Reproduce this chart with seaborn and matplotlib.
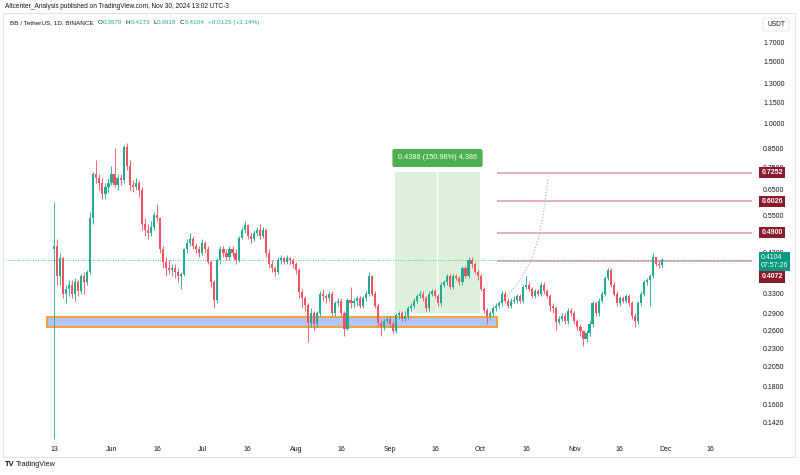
import numpy as np
import pandas as pd
import matplotlib
matplotlib.use("Agg")
import matplotlib.pyplot as plt
import matplotlib.transforms as mtransforms
from matplotlib.patches import Rectangle, FancyBboxPatch
import seaborn as sns

# ---------------- data (daily candles, day 0 = 13 May 2024) ----------------
first_open = 0.44
close = [
    0.45, 0.37, 0.415, 0.33, 0.34, 0.35, 0.33, 0.355, 0.335, 0.37,
    0.355, 0.38, 0.54, 0.72, 0.70, 0.68, 0.63, 0.66, 0.68, 0.72,
    0.67, 0.70, 0.69, 0.86, 0.76, 0.67, 0.66, 0.68, 0.65, 0.52,
    0.50, 0.49, 0.51, 0.55, 0.54, 0.44, 0.405, 0.39, 0.385, 0.39,
    0.38, 0.37, 0.375, 0.44, 0.46, 0.47, 0.45, 0.44, 0.43, 0.46,
    0.44, 0.405, 0.355, 0.316, 0.41, 0.44, 0.43, 0.42, 0.44, 0.43,
    0.41, 0.475, 0.50, 0.515, 0.48, 0.47, 0.49, 0.50, 0.48, 0.50,
    0.43, 0.40, 0.39, 0.38, 0.41, 0.415, 0.405, 0.415, 0.41, 0.40,
    0.385, 0.334, 0.32, 0.306, 0.272, 0.29, 0.27, 0.29, 0.33, 0.325,
    0.32, 0.33, 0.29, 0.31, 0.315, 0.29, 0.262, 0.316, 0.31, 0.315,
    0.32, 0.305, 0.32, 0.33, 0.37, 0.33, 0.305, 0.272, 0.265, 0.275,
    0.28, 0.27, 0.258, 0.286, 0.29, 0.28, 0.285, 0.30, 0.305, 0.315,
    0.325, 0.33, 0.32, 0.30, 0.33, 0.335, 0.325, 0.31, 0.35, 0.355,
    0.37, 0.345, 0.37, 0.365, 0.355, 0.39, 0.37, 0.41, 0.40, 0.38,
    0.37, 0.34, 0.296, 0.285, 0.29, 0.30, 0.305, 0.31, 0.33, 0.315,
    0.305, 0.315, 0.316, 0.325, 0.315, 0.345, 0.35, 0.34, 0.325, 0.335,
    0.33, 0.35, 0.335, 0.325, 0.305, 0.30, 0.274, 0.28, 0.285, 0.275,
    0.295, 0.29, 0.275, 0.265, 0.258, 0.245, 0.255, 0.27, 0.31, 0.29,
    0.315, 0.33, 0.365, 0.385, 0.35, 0.33, 0.31, 0.32, 0.315, 0.325,
    0.31, 0.285, 0.275, 0.31, 0.33, 0.355, 0.36, 0.37, 0.42, 0.40,
    0.3979, 0.4104,
]
high = [
    0.60, 0.47, 0.43, 0.42, 0.35, 0.36, 0.36, 0.365, 0.36, 0.375,
    0.38, 0.385, 0.56, 0.73, 0.79, 0.72, 0.70, 0.68, 0.70, 0.76,
    0.85, 0.72, 0.72, 0.87, 0.88, 0.79, 0.69, 0.70, 0.69, 0.66,
    0.54, 0.52, 0.53, 0.56, 0.59, 0.545, 0.45, 0.42, 0.41, 0.40,
    0.40, 0.39, 0.38, 0.445, 0.47, 0.49, 0.48, 0.46, 0.45, 0.47,
    0.465, 0.45, 0.41, 0.36, 0.415, 0.45, 0.45, 0.44, 0.45, 0.45,
    0.44, 0.48, 0.51, 0.53, 0.52, 0.49, 0.50, 0.51, 0.52, 0.51,
    0.505, 0.44, 0.41, 0.395, 0.42, 0.425, 0.42, 0.425, 0.42, 0.415,
    0.405, 0.39, 0.34, 0.325, 0.31, 0.30, 0.295, 0.295, 0.335, 0.34,
    0.33, 0.335, 0.335, 0.315, 0.32, 0.32, 0.295, 0.32, 0.345, 0.32,
    0.325, 0.325, 0.325, 0.335, 0.38, 0.372, 0.335, 0.31, 0.28, 0.28,
    0.285, 0.285, 0.275, 0.29, 0.295, 0.295, 0.295, 0.305, 0.31, 0.32,
    0.33, 0.335, 0.335, 0.325, 0.335, 0.34, 0.34, 0.33, 0.355, 0.36,
    0.375, 0.375, 0.375, 0.375, 0.37, 0.395, 0.395, 0.42, 0.418, 0.405,
    0.385, 0.375, 0.345, 0.30, 0.295, 0.305, 0.31, 0.315, 0.335, 0.335,
    0.32, 0.32, 0.325, 0.33, 0.33, 0.35, 0.37, 0.355, 0.345, 0.34,
    0.34, 0.355, 0.355, 0.34, 0.33, 0.31, 0.305, 0.285, 0.29, 0.29,
    0.30, 0.30, 0.295, 0.28, 0.27, 0.26, 0.26, 0.275, 0.315, 0.315,
    0.32, 0.335, 0.37, 0.39, 0.39, 0.355, 0.335, 0.325, 0.325, 0.33,
    0.33, 0.315, 0.29, 0.315, 0.335, 0.36, 0.365, 0.375, 0.43, 0.42,
    0.41, 0.4173,
]
low = [
    0.128, 0.35, 0.35, 0.32, 0.31, 0.325, 0.32, 0.315, 0.325, 0.33,
    0.33, 0.35, 0.375, 0.52, 0.68, 0.65, 0.61, 0.61, 0.64, 0.67,
    0.66, 0.65, 0.67, 0.68, 0.74, 0.65, 0.64, 0.65, 0.62, 0.50,
    0.48, 0.47, 0.48, 0.50, 0.53, 0.43, 0.39, 0.37, 0.375, 0.37,
    0.365, 0.355, 0.34, 0.37, 0.43, 0.45, 0.44, 0.43, 0.42, 0.425,
    0.43, 0.40, 0.345, 0.30, 0.31, 0.40, 0.42, 0.41, 0.41, 0.42,
    0.40, 0.405, 0.47, 0.49, 0.47, 0.46, 0.465, 0.48, 0.47, 0.475,
    0.42, 0.39, 0.38, 0.37, 0.375, 0.40, 0.40, 0.40, 0.40, 0.39,
    0.375, 0.32, 0.30, 0.295, 0.24, 0.265, 0.26, 0.265, 0.285, 0.315,
    0.31, 0.315, 0.285, 0.285, 0.305, 0.285, 0.25, 0.26, 0.30, 0.30,
    0.305, 0.30, 0.30, 0.315, 0.325, 0.325, 0.30, 0.265, 0.25, 0.26,
    0.27, 0.265, 0.255, 0.255, 0.28, 0.275, 0.275, 0.28, 0.295, 0.30,
    0.31, 0.32, 0.315, 0.295, 0.295, 0.325, 0.32, 0.305, 0.305, 0.345,
    0.35, 0.34, 0.34, 0.36, 0.35, 0.35, 0.365, 0.365, 0.39, 0.375,
    0.36, 0.335, 0.29, 0.27, 0.28, 0.285, 0.295, 0.30, 0.305, 0.31,
    0.30, 0.30, 0.31, 0.31, 0.31, 0.31, 0.34, 0.335, 0.32, 0.32,
    0.325, 0.325, 0.33, 0.32, 0.295, 0.29, 0.26, 0.27, 0.275, 0.27,
    0.27, 0.285, 0.27, 0.26, 0.25, 0.235, 0.24, 0.25, 0.265, 0.285,
    0.285, 0.31, 0.325, 0.36, 0.345, 0.325, 0.305, 0.305, 0.31, 0.31,
    0.305, 0.28, 0.265, 0.27, 0.305, 0.325, 0.35, 0.305, 0.365, 0.395,
    0.39, 0.3918,
]

xtick_days = [0, 19, 34, 49, 64, 80, 95, 111, 126, 141, 156, 172, 187, 202, 217]
xtick_labels = ["13", "Jun", "16", "Jul", "16", "Aug", "16", "Sep", "16",
                "Oct", "16", "Nov", "16", "Dec", "16"]
ytick_values = [1.70, 1.50, 1.30, 1.15, 1.00, 0.85, 0.75, 0.65, 0.55,
                0.43, 0.33, 0.29, 0.26, 0.23, 0.205, 0.18, 0.16, 0.142]

# annotations (price levels, zones)
target_levels = [0.7252, 0.6026, 0.4900, 0.4072]
last_price = 0.4104
support_zone = (0.265, 0.283)          # blue box low/high
zone_days = (-2.3, 146.4)
range_prices = (0.2905, 0.7291)         # date & price range tool
range_days = (112.7, 140.8)
arc_days = [146.8, 149.8, 154.0, 157.4, 160.0, 161.7, 162.6, 163.3]
arc_prices = [0.306, 0.323, 0.3605, 0.405, 0.468, 0.551, 0.628, 0.697]

# ---------------- build frame ----------------
n = len(close)
opens = [first_open] + close[:-1]
df = pd.DataFrame({"day": np.arange(n), "open": opens, "high": high,
                   "low": low, "close": close})
df["high"] = df[["high", "open", "close"]].max(axis=1)
df["low"] = df[["low", "open", "close"]].min(axis=1)
df["up"] = df["close"] >= df["open"]

UP = "#22ab94"
DN = "#f7525f"
TXT = "#131722"

sns.set_theme(style="white")
plt.rcParams["font.family"] = ["Liberation Sans", "DejaVu Sans"]

W, H = 800, 475
fig = plt.figure(figsize=(8, 4.75), dpi=100)
fig.patch.set_facecolor("white")

def px(x0, y0, x1, y1):
    return [x0 / W, 1 - y1 / H, (x1 - x0) / W, (y1 - y0) / H]

ax = fig.add_axes(px(5, 13, 752, 440))
ax.set_yscale("log")
ax.set_xlim(-16.2, 230.7)
ax.set_ylim(0.127, 2.055)
for s in ax.spines.values():
    s.set_visible(False)

# support zone
ax.add_patch(Rectangle((zone_days[0], support_zone[0]), zone_days[1] - zone_days[0],
                       support_zone[1] - support_zone[0], facecolor="#b4c4f7",
                       edgecolor="#f0a33a", lw=1.4, zorder=1))

# price range tool
ax.add_patch(Rectangle((range_days[0], range_prices[0]), range_days[1] - range_days[0],
                       range_prices[1] - range_prices[0], facecolor="#dcf0dc",
                       edgecolor="none", zorder=0.5))
mid = (range_days[0] + range_days[1]) / 2
ax.plot([mid, mid], range_prices, color="white", lw=1.0, zorder=0.6)
ax.text(mid, 0.7986, "0.4386 (150.98%) 4,386", ha="center", va="center",
        fontsize=5.3, color="white",
        bbox=dict(boxstyle="round,pad=0.75,rounding_size=0.3", fc="#4caf50", ec="none"),
        zorder=6)

# target lines
for lv in target_levels:
    ax.plot([146.4, 231], [lv, lv], color="#e8a2ab", lw=1.2, zorder=1.5,
            solid_capstyle="butt")

# current price dotted line
ax.axhline(last_price, color=UP, lw=0.6, ls=(0, (1, 2)), zorder=1.6)

# arc
sns.lineplot(x=arc_days, y=arc_prices, ax=ax, color="#9cc0ea", lw=0.9,
             linestyle=(0, (1, 1.5)), zorder=2, sort=False)

# candles
for up, col in [(True, UP), (False, DN)]:
    d = df[df["up"] == up]
    ax.vlines(d["day"], d["low"], d["high"], color=col, lw=0.7, alpha=0.9, zorder=3)
    bottom = d[["open", "close"]].min(axis=1)
    top = d[["open", "close"]].max(axis=1)
    height = np.maximum(top - bottom, bottom * 0.006)
    ax.bar(d["day"], height, bottom=bottom, width=0.7, color=col,
           edgecolor="none", zorder=4)

# axes ticks
ax.set_xticks(xtick_days)
ax.set_xticklabels(xtick_labels)
ax.yaxis.set_ticks_position("right")
ax.set_yticks(ytick_values)
ax.set_yticklabels([f"{v:.4f}" for v in ytick_values])
ax.yaxis.set_minor_locator(matplotlib.ticker.NullLocator())
ax.tick_params(axis="both", length=0, labelsize=5, colors=TXT)
ax.tick_params(axis="x", pad=4)
ax.tick_params(axis="y", pad=8)
ax.set_xlabel("")
ax.set_ylabel("")
ax.grid(False)

# right-side price labels
tr = mtransforms.blended_transform_factory(fig.transFigure, ax.transData)
lab_x = 761.5 / W
boxes = [(0.7252, "0.7252", "#8b1a2b"), (0.6026, "0.6026", "#8b1a2b"),
         (0.4900, "0.4900", "#8b1a2b"), (0.3676, "0.4072", "#8b1a2b")]
for yv, t, c in boxes:
    fig.text(lab_x, yv, t, transform=tr, ha="left", va="center", fontsize=5,
             color="white", fontweight="bold",
             bbox=dict(boxstyle="square,pad=0.3", fc=c, ec="none"), zorder=10)
fig.text(lab_x - 0.001, last_price * 0.993, "0.4104\n07:57:26", transform=tr,
         ha="left", va="center", fontsize=5, color="white", linespacing=1.15,
         bbox=dict(boxstyle="square,pad=0.3", fc="#089981", ec="none"), zorder=10)

# USDT box
fig.patches.append(FancyBboxPatch((763 / W, 1 - 31 / H), 26 / W, 13 / H,
                                  boxstyle="round,pad=0,rounding_size=0.004",
                                  transform=fig.transFigure, fc="white",
                                  ec="#e0e3eb", lw=0.6))
fig.text(776 / W, 1 - 24.5 / H, "USDT", ha="center", va="center", fontsize=4.8, color=TXT)

# frame
fig.patches.append(Rectangle((3 / W, 1 - 457 / H), 792 / W, 444 / H,
                             transform=fig.transFigure, fill=False,
                             ec="#e0e3eb", lw=0.8))

# header lines
fig.text(5 / W, 1 - 7 / H, "Altcenter_Analysis published on TradingView.com, Nov 30, 2024 13:02 UTC-3",
         ha="left", va="center", fontsize=4.7, color=TXT)

pieces = [("BB / TetherUS, 1D, BINANCE", TXT, 0), ("O", TXT, 3), ("0.3979", UP, 0),
          ("H", TXT, 2.5), ("0.4173", UP, 0), ("L", TXT, 2.5), ("0.3918", UP, 0),
          ("C", TXT, 2.5), ("0.4104", UP, 0), ("+0.0125 (+3.14%)", UP, 2.5)]
prev = fig.text(10 / W, 1 - 22.5 / H, pieces[0][0], ha="left", va="center",
                fontsize=4.6, color=pieces[0][1])
for t, c, gap in pieces[1:]:
    prev = ax.annotate(t, xy=(1, 0.5), xycoords=prev, xytext=(gap, 0),
                       textcoords="offset points", ha="left", va="center",
                       fontsize=4.6, color=c, annotation_clip=False)

# footer logo
fig.text(5 / W, 1 - 465 / H, "TV", ha="left", va="center", fontsize=5.5,
         fontweight="bold", color=TXT)
fig.text(16 / W, 1 - 465 / H, "TradingView", ha="left", va="center",
         fontsize=5.2, color=TXT)

fig.savefig("out.png", dpi=100, facecolor="white")
